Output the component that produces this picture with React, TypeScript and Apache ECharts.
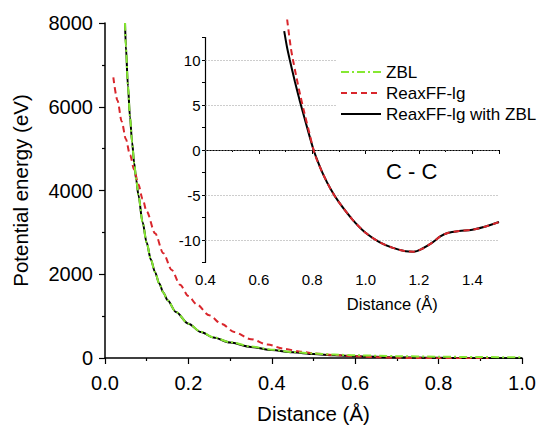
import React, { useEffect, useRef } from "react";
import * as echarts from "echarts";

// ---- Main panel (Potential energy vs distance) ----
const mainBlackX = [0.048, 0.05, 0.055, 0.06, 0.065, 0.07, 0.075, 0.08, 0.09, 0.1, 0.11, 0.12, 0.13, 0.14, 0.15, 0.17, 0.2, 0.23, 0.26, 0.3, 0.35, 0.4, 0.45, 0.5, 0.55, 0.6, 0.7, 0.8, 0.9, 1.0];
const mainBlackE = [8000, 7450, 6500, 5750, 5150, 4650, 4250, 3900, 3250, 2750, 2350, 2050, 1780, 1560, 1380, 1100, 820, 620, 490, 370, 265, 190, 135, 95, 65, 42, 18, 3, -8, -10];

const mainGreenX = [0.048, 0.05, 0.055, 0.06, 0.065, 0.07, 0.075, 0.08, 0.09, 0.1, 0.11, 0.12, 0.13, 0.14, 0.15, 0.17, 0.2, 0.23, 0.26, 0.3, 0.35, 0.4, 0.45, 0.5, 0.55, 0.6, 0.7, 0.8, 0.9, 1.0];
const mainGreenE = [8000, 7450, 6500, 5750, 5150, 4650, 4250, 3900, 3250, 2750, 2350, 2050, 1780, 1560, 1380, 1100, 820, 625, 495, 378, 275, 200, 145, 108, 82, 64, 44, 31, 22, 16];

const mainRedX = [0.02, 0.03, 0.04, 0.05, 0.06, 0.07, 0.08, 0.09, 0.1, 0.12, 0.14, 0.16, 0.18, 0.2, 0.22, 0.25, 0.28, 0.31, 0.35, 0.39, 0.43, 0.47, 0.5, 0.55, 0.6, 0.65, 0.7, 0.75, 0.8, 0.85, 0.92];
const mainRedE = [6700, 6150, 5650, 5230, 4850, 4500, 4150, 3800, 3500, 2980, 2500, 2100, 1750, 1480, 1280, 1020, 810, 620, 450, 320, 220, 150, 110, 70, 40, 20, 6, -2, -6, -9, -10];

const mainXTicks = { min: 0, max: 1, interval: 0.2 };
const mainYTicks = { min: 0, max: 8000, interval: 2000 };

// ---- Inset panel (C - C) ----
const insetBlackX = [0.695, 0.705, 0.716, 0.735, 0.754, 0.779, 0.803, 0.82, 0.841, 0.87, 0.9, 0.95, 1.0, 1.05, 1.1, 1.15, 1.18, 1.21, 1.25, 1.28, 1.31, 1.35, 1.4, 1.45, 1.5];
const insetBlackE = [13.2, 11.5, 10.0, 7.6, 5.4, 2.7, 0.2, -1.2, -2.7, -4.4, -5.8, -7.7, -9.2, -10.2, -10.85, -11.25, -11.3, -11.0, -10.3, -9.6, -9.2, -9.0, -8.85, -8.5, -8.0];

const insetRedX = [0.706, 0.72, 0.728, 0.74, 0.755, 0.77, 0.79, 0.81, 0.841, 0.87, 0.9, 0.95, 1.0, 1.05, 1.1, 1.15, 1.18, 1.21, 1.25, 1.28, 1.31, 1.35, 1.4, 1.45, 1.5];
const insetRedE = [14.5, 11.3, 10.0, 8.2, 6.1, 4.2, 1.8, -0.5, -2.7, -4.4, -5.8, -7.7, -9.2, -10.2, -10.85, -11.25, -11.3, -11.0, -10.3, -9.6, -9.2, -9.0, -8.85, -8.5, -8.0];

const insetGridValues = [-10, -5, 0, 5, 10];
const seriesNames = ["ZBL", "ReaxFF-lg", "ReaxFF-lg with ZBL"];

const FONT = "Liberation Sans, Arial, Helvetica, sans-serif";
const RED = "#d9262c";
const GREEN = "#86e832";

const pairs = (xs: number[], ys: number[]) => xs.map((x, i) => [x, ys[i]]);

export default function App() {
  const ref = useRef<HTMLDivElement>(null);
  useEffect(() => {
    if (!ref.current) return;
    const chart = echarts.init(ref.current, undefined, { renderer: "svg" });
    const axisLine = { show: true, lineStyle: { color: "#000", width: 1.5 } };
    const option: any = {
      animation: false,
      backgroundColor: "#fff",
      textStyle: { fontFamily: FONT },
      grid: [
        { left: 105, right: 19, top: 23, bottom: 68, containLabel: false, outerBoundsMode: "none" },
        { left: 205.5, right: 42, top: 37.5, bottom: 163.5, containLabel: false, outerBoundsMode: "none" },
      ],
      xAxis: [
        {
          type: "value",
          gridIndex: 0,
          ...mainXTicks,
          axisLine,
          axisTick: { show: true, length: 6, lineStyle: { color: "#000", width: 1.2 } },
          minorTick: { show: true, splitNumber: 2, length: 3, lineStyle: { color: "#000", width: 1.2 } },
          splitLine: { show: false },
          axisLabel: { fontSize: 20, color: "#000", fontFamily: FONT, margin: 15, formatter: (v: number) => v.toFixed(1) },
          name: "Distance (Å)",
          nameLocation: "middle",
          nameGap: 45,
          nameTextStyle: { fontSize: 20.5, lineHeight: 21, color: "#000", fontFamily: FONT },
        },
        {
          type: "value",
          gridIndex: 1,
          min: 0.4,
          max: 1.5,
          interval: 0.2,
          axisLine: { show: true, lineStyle: { color: "#000", width: 1.2 } },
          axisTick: { show: true, length: 4, lineStyle: { color: "#000", width: 1 } },
          minorTick: { show: true, splitNumber: 2, length: 2, lineStyle: { color: "#000", width: 1 } },
          splitLine: { show: false },
          axisLabel: { fontSize: 15, color: "#000", fontFamily: FONT, margin: 9, showMaxLabel: false, formatter: (v: number) => v.toFixed(1) },
          name: "Distance (Å)",
          nameLocation: "middle",
          nameGap: 33,
          nameTextStyle: { fontSize: 16.5, color: "#000", fontFamily: FONT, padding: [0, 0, 0, 80] },
        },
      ],
      yAxis: [
        {
          type: "value",
          gridIndex: 0,
          ...mainYTicks,
          axisLine,
          axisTick: { show: true, length: 6, lineStyle: { color: "#000", width: 1.2 } },
          minorTick: { show: true, splitNumber: 2, length: 3, lineStyle: { color: "#000", width: 1.2 } },
          splitLine: { show: false },
          axisLabel: { fontSize: 20, color: "#000", fontFamily: FONT, margin: 12, formatter: (v: number) => String(v) },
          name: "Potential energy (eV)",
          nameLocation: "middle",
          nameGap: 74,
          nameTextStyle: { fontSize: 20.5, color: "#000", fontFamily: FONT },
        },
        {
          type: "value",
          gridIndex: 1,
          min: -12.5,
          max: 12.5,
          interval: 2.5,
          axisLine: { show: true, lineStyle: { color: "#000", width: 1.2 } },
          axisTick: { show: true, length: 3.5, lineStyle: { color: "#000", width: 1 } },
          splitLine: { show: false },
          axisLabel: {
            fontSize: 15,
            color: "#000",
            fontFamily: FONT,
            margin: 5,
            formatter: (v: number) => (Math.abs(v % 5) < 1e-6 ? String(v) : ""),
          },
        },
      ],
      legend: {
        orient: "vertical",
        left: 337,
        top: 59,
        data: seriesNames,
        selectedMode: false,
        backgroundColor: "#fff",
        padding: [3, 4, 6, 3],
        itemWidth: 40,
        itemHeight: 14,
        itemGap: 1,
        itemStyle: { opacity: 0 },
        textStyle: { fontSize: 17, color: "#000", fontFamily: FONT, lineHeight: 20, padding: [0, 0, 0, 0] },
      },
      graphic: [
        {
          type: "text",
          left: 386,
          top: 160,
          style: { text: "C - C", font: `22px ${FONT}`, fill: "#000" },
        },
      ],
      series: [
        {
          name: "ReaxFF-lg with ZBL",
          type: "line",
          xAxisIndex: 0,
          yAxisIndex: 0,
          data: pairs(mainBlackX, mainBlackE),
          symbol: "none",
          smooth: 0.3,
          smoothMonotone: "x",
          lineStyle: { color: "#000", width: 2 },
          itemStyle: { color: "#000" },
        },
        {
          name: "ReaxFF-lg",
          type: "line",
          xAxisIndex: 0,
          yAxisIndex: 0,
          data: pairs(mainRedX, mainRedE),
          symbol: "none",
          smooth: 0.3,
          smoothMonotone: "x",
          lineStyle: { color: RED, width: 2, type: [6, 4] },
          itemStyle: { color: RED },
        },
        {
          name: "ZBL",
          type: "line",
          xAxisIndex: 0,
          yAxisIndex: 0,
          data: pairs(mainGreenX, mainGreenE),
          symbol: "none",
          smooth: 0.3,
          smoothMonotone: "x",
          lineStyle: { color: GREEN, width: 2, type: [8, 3, 2, 3] },
          itemStyle: { color: GREEN },
        },
        {
          name: "ReaxFF-lg with ZBL",
          type: "line",
          xAxisIndex: 1,
          yAxisIndex: 1,
          data: pairs(insetBlackX, insetBlackE),
          symbol: "none",
          smooth: 0.3,
          clip: false,
          lineStyle: { color: "#000", width: 2 },
          itemStyle: { color: "#000" },
          markLine: {
            silent: true,
            symbol: "none",
            label: { show: false },
            lineStyle: { color: "#9a9a9a", width: 1, type: [1, 2] },
            data: insetGridValues.map((v) => ({ yAxis: v })),
            z: 1,
          },
        },
        {
          name: "ReaxFF-lg",
          type: "line",
          xAxisIndex: 1,
          yAxisIndex: 1,
          data: pairs(insetRedX, insetRedE),
          symbol: "none",
          smooth: 0.3,
          clip: false,
          lineStyle: { color: RED, width: 2, type: [6, 4] },
          itemStyle: { color: RED },
        },
      ],
    };
    chart.setOption(option);
    return () => chart.dispose();
  }, []);
  return (
    <div
      ref={ref}
      style={{ position: "absolute", left: 0, top: 0, width: 541, height: 426, background: "#fff" }}
    />
  );
}
